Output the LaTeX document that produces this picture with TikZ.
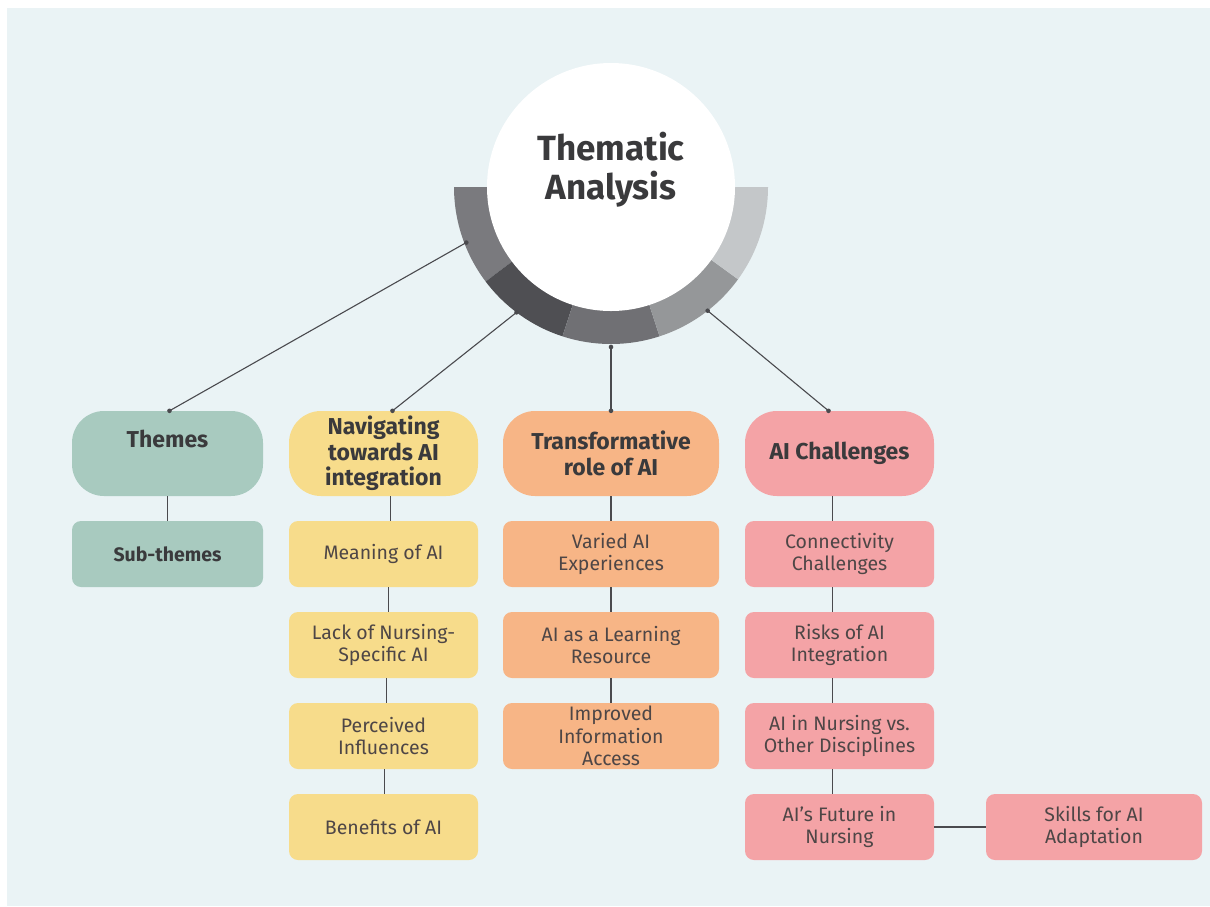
\documentclass[tikz,border=0pt]{standalone}
\usepackage{fontspec}
\setmainfont{Fira Sans}
\usetikzlibrary{positioning}

\definecolor{panel}{HTML}{EAF3F5}
\definecolor{linecol}{HTML}{4A4A4E}
\definecolor{txtdark}{HTML}{3A3A3C}
\definecolor{txtsub}{HTML}{4E4646}
\definecolor{sage}{HTML}{A8CABF}
\definecolor{sun}{HTML}{F7DC8B}
\definecolor{peach}{HTML}{F7B586}
\definecolor{rose}{HTML}{F4A3A6}
\definecolor{ringA}{HTML}{7A7A7E}
\definecolor{ringB}{HTML}{4F4F53}
\definecolor{ringC}{HTML}{707074}
\definecolor{ringD}{HTML}{959799}
\definecolor{ringE}{HTML}{C4C7C9}

\tikzset{
  head/.style={rectangle, rounded corners=32pt, minimum height=85pt,
    inner sep=0pt, align=center, text=txtdark,
    font=\fontsize{23}{25.5}\selectfont\bfseries},
  sub/.style={rectangle, rounded corners=9pt, minimum height=66pt,
    inner sep=0pt, align=center, text=txtsub,
    font=\fontsize{19.5}{22.5}\selectfont},
  link/.style={draw=linecol, line width=1.1pt},
}

\begin{document}
\begin{tikzpicture}[x=1pt, y=-1pt]
  \useasboundingbox (0,0) rectangle (1210,906);
  \fill[white] (0,0) rectangle (1210,906);
  \fill[panel] (7,8) rectangle (1210,906);

  % ring under the hub
  \begin{scope}[shift={(611,187)}]
    \fill[ringA] (0,0) -- (180:157) arc[start angle=180, end angle=143, radius=157] -- cycle;
    \fill[ringB] (0,0) -- (143:157) arc[start angle=143, end angle=108, radius=157] -- cycle;
    \fill[ringC] (0,0) -- (108:157) arc[start angle=108, end angle=72, radius=157] -- cycle;
    \fill[ringD] (0,0) -- (72:157) arc[start angle=72, end angle=36, radius=157] -- cycle;
    \fill[ringE] (0,0) -- (36:157) arc[start angle=36, end angle=0, radius=157] -- cycle;
    \coordinate (r1) at (159:155);
    \coordinate (r2) at (127:157);
    \coordinate (r3) at (90:160);
    \coordinate (r4) at (52:157);
  \end{scope}
  \node[circle, fill=white, minimum size=248pt, inner sep=0pt] (hub) at (611,187) {};
  \node[align=center, text=txtdark, font=\fontsize{35}{39}\selectfont\bfseries] (title) at (611,170) {Thematic\\Analysis};

  % themes
  \node[head, fill=sage, minimum width=191pt] (themes) at (167.5,453.5) {\raisebox{6pt}[0pt][0pt]{Themes}};
  \node[head, fill=sun, minimum width=189pt] (nav) at (383.5,453.5) {Navigating\\towards AI\\integration};
  \node[head, fill=peach, minimum width=216pt] (trans) at (611,453.5) {Transformative\\role of AI};
  \node[head, fill=rose, minimum width=189pt] (chal) at (839.5,453.5) {AI Challenges};

  % sub-themes
  \node[sub, fill=sage, minimum width=191pt, font=\fontsize{19.5}{22.5}\selectfont\bfseries, text=txtdark] (subs) at (167.5,554) {Sub-themes};

  \node[sub, fill=sun, minimum width=189pt] (nav1) at (383.5,554) {Meaning of AI};
  \node[sub, fill=sun, minimum width=189pt] (nav2) at (383.5,645) {Lack of Nursing-\\Specific AI};
  \node[sub, fill=sun, minimum width=189pt] (nav3) at (383.5,736) {Perceived\\Influences};
  \node[sub, fill=sun, minimum width=189pt] (nav4) at (383.5,827) {Benefits of AI};

  \node[sub, fill=peach, minimum width=216pt] (trans1) at (611,554) {Varied AI\\Experiences};
  \node[sub, fill=peach, minimum width=216pt] (trans2) at (611,645) {AI as a Learning\\Resource};
  \node[sub, fill=peach, minimum width=216pt] (trans3) at (611,736) {Improved\\Information\\Access};

  \node[sub, fill=rose, minimum width=189pt] (chal1) at (839.5,554) {Connectivity\\Challenges};
  \node[sub, fill=rose, minimum width=189pt] (chal2) at (839.5,645) {Risks of AI\\Integration};
  \node[sub, fill=rose, minimum width=189pt] (chal3) at (839.5,736) {AI in Nursing vs.\\Other Disciplines};
  \node[sub, fill=rose, minimum width=189pt] (chal4) at (839.5,827) {AI’s Future in\\Nursing};
  \node[sub, fill=rose, minimum width=216pt] (skill) at (1094,827) {Skills for AI\\Adaptation};

  % spokes from the ring
  \draw[link] (r1) -- ([xshift=2pt]themes.north);
  \draw[link] (r2) -- ([xshift=9pt]nav.north);
  \draw[link] (r3) -- (trans.north);
  \draw[link] (r4) -- ([xshift=-11pt]chal.north);
  \foreach \p in {r1,r2,r3,r4}
    \fill[linecol] (\p) circle[radius=2.3];
  \fill[linecol] ([xshift=2pt]themes.north) circle[radius=2.3];
  \fill[linecol] ([xshift=9pt]nav.north) circle[radius=2.3];
  \fill[linecol] (trans.north) circle[radius=2.3];
  \fill[linecol] ([xshift=-11pt]chal.north) circle[radius=2.3];

  % columns
  \draw[link] (themes) -- (subs);
  \draw[link] ([xshift=7pt]nav.south) -- ([xshift=7pt]nav1.north);
  \draw[link] ([xshift=5pt]nav1.south) -- ([xshift=5pt]nav2.north);
  \draw[link] ([xshift=3pt]nav2.south) -- ([xshift=3pt]nav3.north);
  \draw[link] ([xshift=1pt]nav3.south) -- ([xshift=1pt]nav4.north);
  \draw[link] (trans) -- (trans1);
  \draw[link] (trans1) -- (trans2);
  \draw[link] (trans2) -- (trans3);
  \draw[link] ([xshift=-7pt]chal.south) -- ([xshift=-7pt]chal1.north);
  \draw[link] ([xshift=-7pt]chal1.south) -- ([xshift=-7pt]chal2.north);
  \draw[link] ([xshift=-7pt]chal2.south) -- ([xshift=-7pt]chal3.north);
  \draw[link] ([xshift=-7pt]chal3.south) -- ([xshift=-7pt]chal4.north);
  \draw[link] (chal4) -- (skill);
\end{tikzpicture}
\end{document}
